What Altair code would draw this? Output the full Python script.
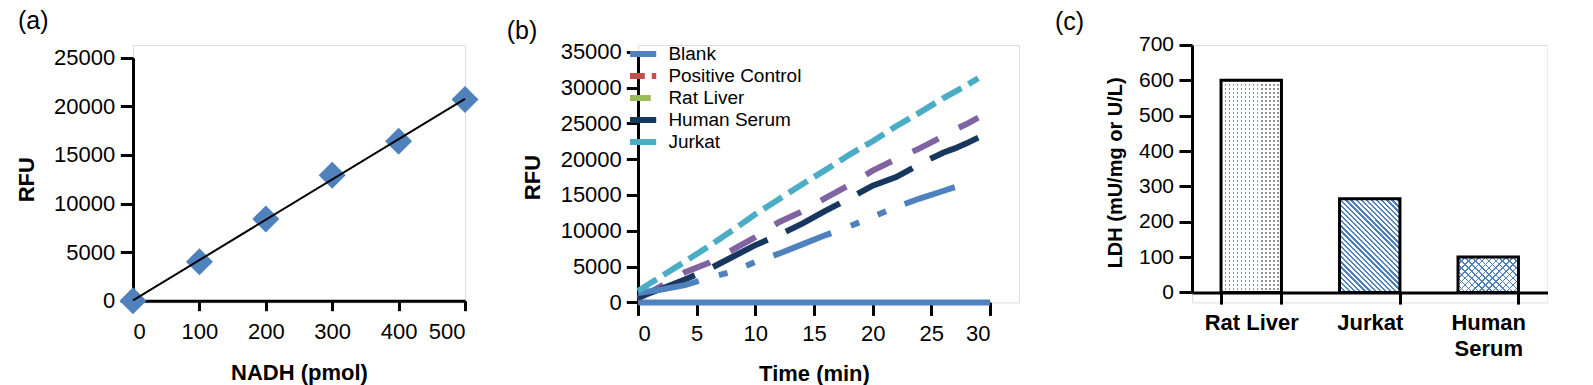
import altair as alt
import pandas as pd

FONT = "Liberation Sans"

# ---------------- (a) NADH standard curve ----------------
nadh_pmol = [0, 100, 200, 300, 400, 500]
nadh_rfu = [0, 4000, 8400, 12900, 16400, 20700]

# ---------------- (b) kinetic traces ----------------
time_min = [0, 2, 4, 6, 8, 10, 12, 14, 16, 18, 20, 22, 24, 26, 27, 28, 29, 30]
rfu_blank = [0, 0, 0, 0, 0, 0, 0, 0, 0, 0, 0, 0, 0, 0, 0, 0, 0, 0]
rfu_positive_control = [1300, 1800, 2400, 3400, 4300, 5650, 6800, 8100, 9400, 10600,
                        11950, 13300, 14500, 15550, 16100, None, None, None]
rfu_rat_liver = [500, 2300, 4200, 5500, 7300, 9100, 11200, 12700, 14600, 16400,
                 18400, 20000, 21500, 23200, 24100, 24900, 25800, None]
rfu_human_serum = [700, 1900, 3200, 4600, 6300, 8000, 9400, 11000, 12800, 14500,
                   16300, 17500, 19300, 20900, 21500, 22200, 23000, None]
rfu_jurkat = [1600, 3650, 5700, 7800, 10000, 12300, 14400, 16500, 18500, 20600,
              22500, 24600, 26500, 28500, 29400, 30300, 31300, None]
series_names = ["Blank", "Positive Control", "Rat Liver", "Human Serum", "Jurkat"]

# ---------------- (c) LDH activity ----------------
samples = ["Rat Liver", "Jurkat", "Human Serum"]
ldh_activity = [600, 265, 100]

# ---------------- styles ----------------
BLUE = "#4f81bd"
line_colors = [BLUE, BLUE, "#8064a2", "#17375e", "#4bacc6"]
line_dashes = [[1, 0], [62, 21, 9, 20, 9, 20], [29, 23], [61, 20], [22, 8]]
draw_order = ["Blank", "Rat Liver", "Human Serum", "Positive Control", "Jurkat"]
legend_colors = [BLUE, "#c0504d", "#9bbb59", "#17375e", "#4bacc6"]
legend_dashes = [[1, 0], [22, 7, 5, 7], [28, 12], [1, 0], [1, 0]]

TOP = 44.3
H = 257.4

axis_style = dict(domainColor="black", domainWidth=3, tickColor="black", tickWidth=3,
                  labelColor="black", titleColor="black", labelFont=FONT, titleFont=FONT,
                  grid=False)


def panel_title(text, dx, dy):
    return alt.TitleParams(text=text, anchor="start", frame="group", orient="top",
                           fontSize=25, fontWeight="normal", font=FONT, color="black",
                           baseline="alphabetic", offset=20, dx=dx, dy=dy)


# ---------------- panel (a) ----------------
df_a = pd.DataFrame({"nadh": nadh_pmol, "rfu": nadh_rfu})
xa = alt.X("nadh:Q", scale=alt.Scale(domain=[0, 500], nice=False),
           axis=alt.Axis(values=nadh_pmol, format="d", tickSize=10, labelPadding=27.7,
                         labelBaseline="alphabetic", labelFontSize=22,
                         title="NADH (pmol)", titleFontSize=22, titleFontWeight="bold",
                         titleBaseline="alphabetic", titleX=166, titleY=79, offset=-1.7,
                         **axis_style))
ya = alt.Y("rfu:Q", scale=alt.Scale(domain=[0, 25000], nice=False, range=[300 - TOP, 57 - TOP]),
           axis=alt.Axis(values=[0, 5000, 10000, 15000, 20000, 25000], format="d",
                         tickSize=12.7, labelPadding=5.6, labelFontSize=22,
                         title="RFU", titleFontSize=22, titleFontWeight="bold",
                         titleBaseline="alphabetic", titleX=-99.7,
                         titleY=(57 + 300) / 2 - TOP, **axis_style))
base_a = alt.Chart(df_a).encode(x=xa, y=ya)
pts_a = base_a.mark_point(shape="diamond", filled=True, size=729, color=BLUE, opacity=1)
fit_a = base_a.transform_regression("nadh", "rfu", extent=[0, 500]).mark_line(
    color="black", strokeWidth=2)
panel_a = alt.layer(pts_a, fit_a).properties(width=332, height=H,
                                             title=panel_title("(a)", -115, 29.3))

# ---------------- panel (b) ----------------
rows = []
for name, vals in zip(series_names, [rfu_blank, rfu_positive_control, rfu_rat_liver,
                                     rfu_human_serum, rfu_jurkat]):
    for t, v in zip(time_min, vals):
        if v is not None:
            rows.append({"series": name, "t": t, "rfu": v})
df_b = pd.DataFrame(rows)
df_leg = pd.DataFrame({"series": series_names, "t": [None] * 5, "rfu": [None] * 5})

xb = alt.X("t:Q", scale=alt.Scale(domain=[0, 30], nice=False, range=[0, 352]),
           axis=alt.Axis(values=[0, 5, 10, 15, 20, 25, 30], tickSize=13, labelPadding=25,
                         labelBaseline="alphabetic", labelFontSize=22,
                         title="Time (min)", titleFontSize=22, titleFontWeight="bold",
                         titleBaseline="alphabetic", titleX=176, titleY=78, **axis_style))
yb = alt.Y("rfu:Q", scale=alt.Scale(domain=[0, 35000], nice=False,
                                    range=[301.7 - TOP, 51 - TOP]),
           axis=alt.Axis(values=[0, 5000, 10000, 15000, 20000, 25000, 30000, 35000],
                         format="d", tickSize=11.7, labelPadding=5, labelFontSize=22,
                         title="RFU", titleFontSize=22, titleFontWeight="bold",
                         titleBaseline="alphabetic", titleX=-98.7,
                         titleY=(51 + 301.7) / 2 - TOP, **axis_style))

line_layers = []
for name in draw_order:
    i = series_names.index(name)
    line_layers.append(
        alt.Chart(df_b).transform_filter(alt.datum.series == name).mark_line(
            strokeWidth=6, strokeCap="butt", color=line_colors[i], strokeDash=line_dashes[i]
        ).encode(x=xb, y=yb)
    )
leg = alt.Legend(orient="none", legendX=-8, legendY=-1.5, title=None,
                 symbolType="M-8.35,0H8.35", symbolSize=16, symbolStrokeWidth=6,
                 symbolFillColor="transparent", clipHeight=21.1,
                 labelFontSize=19, labelFont=FONT, labelColor="black", labelOffset=19.4,
                 rowPadding=0, padding=0, labelLimit=300)
legend_b = alt.Chart(df_leg).mark_line(strokeWidth=6, strokeCap="butt").encode(
    x=xb, y=yb,
    color=alt.Color("series:N", scale=alt.Scale(domain=series_names, range=legend_colors),
                    legend=leg),
    strokeDash=alt.StrokeDash("series:N",
                              scale=alt.Scale(domain=series_names, range=legend_dashes),
                              legend=leg),
)
panel_b = alt.layer(*line_layers, legend_b).properties(
    width=381, height=H, title=panel_title("(b)", -131.3, 43.5))

# ---------------- panel (c) ----------------
df_c = pd.DataFrame({"sample": samples, "ldh": ldh_activity})


def stripes(x1, y1, x2, y2, n, c_line, c_bg, frac):
    stops = []
    for i in range(n):
        a = i / n
        b = (i + frac) / n
        c = (i + 1) / n
        stops += [alt.GradientStop(offset=a, color=c_line),
                  alt.GradientStop(offset=b, color=c_line),
                  alt.GradientStop(offset=b, color=c_bg),
                  alt.GradientStop(offset=c, color=c_bg)]
    return alt.LinearGradient(gradient="linear", stops=stops, x1=x1, y1=y1, x2=x2, y2=y2)


def diag_down(w, h, n, c_line, c_bg, frac):
    s = (w + h) / (w * w + h * h)
    return stripes(0, 1, s * w, 1 - s * h, n, c_line, c_bg, frac)


def diag_up(w, h, n, c_line, c_bg, frac):
    s = (w + h) / (w * w + h * h)
    return stripes(0, 0, s * w, s * h, n, c_line, c_bg, frac)


CLEAR = "rgba(255,255,255,0)"
BW = 60.3
xc = alt.X("sample:N", sort=samples, scale=alt.Scale(paddingInner=0.49, paddingOuter=0.245),
           axis=alt.Axis(tickBand="extent", tickSize=11.7, labelPadding=25,
                         labelBaseline="alphabetic", labelFontSize=22, labelFontWeight="bold",
                         labelAngle=0, labelLineHeight=26.7,
                         labelExpr="datum.label == 'Human Serum' ? ['Human', 'Serum'] : datum.label",
                         title=None, offset=-10, **axis_style))
yc = alt.Y("ldh:Q", scale=alt.Scale(domain=[0, 700], nice=False,
                                    range=[291.7 - TOP, 44.3 - TOP]),
           axis=alt.Axis(values=[0, 100, 200, 300, 400, 500, 600, 700], tickSize=13,
                         labelPadding=5.5, labelFontSize=21,
                         title="LDH (mU/mg or U/L)", titleFontSize=20, titleFontWeight="bold",
                         titleBaseline="alphabetic", titleX=-70.8, titleY=127.4,
                         **axis_style))
base_c = alt.Chart(df_c).encode(x=xc, y=yc)
rat1 = base_c.transform_filter(alt.datum.sample == "Rat Liver").mark_bar(
    strokeWidth=0, fill=stripes(0, 0, 0, 1, 53, "#8f96a0", "#ffffff", 0.3))
rat2 = base_c.transform_filter(alt.datum.sample == "Rat Liver").mark_bar(
    strokeWidth=0, fill=stripes(0, 0, 1, 0, 15, CLEAR, "#ffffff", 0.3))
jur = base_c.transform_filter(alt.datum.sample == "Jurkat").mark_bar(
    strokeWidth=0, fill=diag_down(BW, 93.3, 30, BLUE, "#ffffff", 0.45))
hs1 = base_c.transform_filter(alt.datum.sample == "Human Serum").mark_bar(
    strokeWidth=0, fill=diag_down(BW, 35.3, 14, BLUE, "#ffffff", 0.22))
hs2 = base_c.transform_filter(alt.datum.sample == "Human Serum").mark_bar(
    strokeWidth=0, fill=diag_up(BW, 35.3, 14, BLUE, CLEAR, 0.22))
outline = base_c.mark_bar(fillOpacity=0, stroke="black", strokeWidth=3)
panel_c = alt.layer(rat1, rat2, jur, hs1, hs2, outline).properties(
    width=355.5, height=H, title=panel_title("(c)", -137, 41.5))

chart = alt.hconcat(panel_a, panel_b, panel_c, spacing=173, bounds="flush").resolve_scale(
    color="independent", strokeDash="independent"
).properties(
    padding={"left": 6, "top": 0, "right": 0, "bottom": 0}
).configure_view(stroke=None).configure(background="white")

chart.save("out.html", embed_options={"renderer": "svg", "actions": False})
